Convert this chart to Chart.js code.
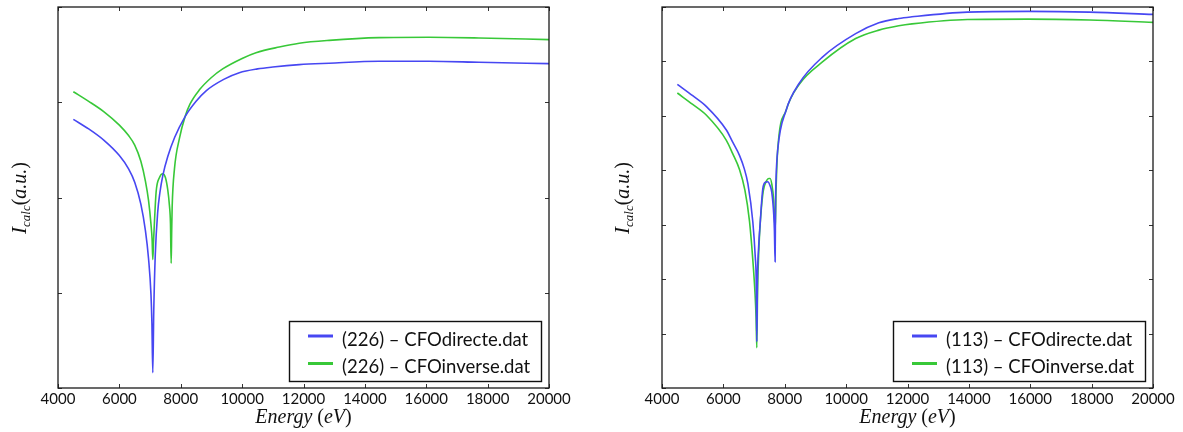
<!DOCTYPE html>
<html>
<head>
<meta charset="utf-8">
<script src="https://cdn.jsdelivr.net/npm/chart.js@4.4.1/dist/chart.umd.min.js"></script>
<style>
  html, body { margin: 0; padding: 0; background: #fff; }
  body { width: 1183px; height: 432px; position: relative; overflow: hidden; }
  .box { position: absolute; top: 0; height: 432px; }
  canvas { display: block; }
</style>
</head>
<body>
<div class="box" style="left:0;width:590px"><canvas id="c1" width="590" height="432"></canvas></div>
<div class="box" style="left:590px;width:593px"><canvas id="c2" width="593" height="432"></canvas></div>
<script>
// ---------- data ----------
const X_TICKS = [4000, 6000, 8000, 10000, 12000, 14000, 16000, 18000, 20000];
const Y_TICKS_226 = [0, 1, 2, 3, 4];
const Y_TICKS_113 = [0, 1, 2, 3, 4, 5, 6, 7];

const LABEL_226_DIR = "(226) \u2013 CFOdirecte.dat";
const LABEL_226_INV = "(226) \u2013 CFOinverse.dat";
const LABEL_113_DIR = "(113) \u2013 CFOdirecte.dat";
const LABEL_113_INV = "(113) \u2013 CFOinverse.dat";

const E_226_DIR = [4500, 5000, 5500, 6000, 6300, 6500, 6700, 6850, 6950, 7030, 7060, 7089, 7120, 7170, 7250, 7320, 7415, 7577, 7800, 8142, 8500, 8826, 9400, 9908, 10500, 11000, 11860, 12836, 14462, 16089, 17715, 20000];
const I_226_DIR = [2.82, 2.72, 2.60, 2.44, 2.30, 2.16, 1.93, 1.65, 1.36, 0.98, 0.68, 0.16, 0.80, 1.40, 1.85, 2.05, 2.23, 2.43, 2.63, 2.85, 3.01, 3.12, 3.24, 3.31, 3.35, 3.37, 3.395, 3.41, 3.43, 3.43, 3.42, 3.405];

const E_226_INV = [4500, 5000, 5500, 6000, 6300, 6500, 6700, 6850, 6950, 7030, 7068, 7089, 7115, 7144, 7198, 7307, 7415, 7500, 7577, 7630, 7665, 7688, 7705, 7720, 7795, 7957, 8142, 8300, 8608, 9000, 9366, 10000, 10452, 11210, 11860, 12836, 14462, 16089, 17715, 20000];
const I_226_INV = [3.11, 3.01, 2.90, 2.76, 2.65, 2.55, 2.38, 2.17, 1.97, 1.72, 1.55, 1.35, 1.55, 1.75, 2.06, 2.21, 2.25, 2.21, 2.08, 1.92, 1.73, 1.31, 1.65, 1.90, 2.30, 2.62, 2.85, 2.98, 3.13, 3.26, 3.35, 3.46, 3.52, 3.58, 3.62, 3.65, 3.678, 3.682, 3.675, 3.657];

const E_113_DIR = [4500, 5000, 5449, 6097, 6300, 6528, 6680, 6800, 6960, 7040, 7069, 7089, 7110, 7150, 7198, 7284, 7370, 7446, 7520, 7576, 7640, 7663, 7686, 7700, 7720, 7770, 8042, 8473, 9228, 10311, 11067, 11715, 12147, 13951, 15929, 17928, 20000];
const I_113_DIR = [5.58, 5.37, 5.17, 4.74, 4.52, 4.27, 4.03, 3.75, 3.05, 2.40, 2.00, 0.85, 2.00, 2.60, 3.02, 3.66, 3.78, 3.79, 3.72, 3.60, 3.20, 2.90, 2.32, 3.40, 3.90, 4.37, 5.10, 5.60, 6.08, 6.51, 6.71, 6.79, 6.82, 6.906, 6.92, 6.906, 6.864];

const E_113_INV = [4500, 5000, 5449, 6097, 6300, 6528, 6700, 6850, 6960, 7030, 7065, 7089, 7115, 7160, 7210, 7300, 7400, 7480, 7522, 7580, 7640, 7690, 7720, 7770, 8042, 8473, 9228, 10311, 11067, 11715, 12147, 13951, 15929, 17928, 20000];
const I_113_INV = [5.42, 5.21, 5.01, 4.55, 4.31, 4.01, 3.64, 3.07, 2.35, 1.75, 1.30, 0.74, 1.80, 2.60, 3.10, 3.62, 3.80, 3.85, 3.85, 3.74, 3.45, 2.90, 3.70, 4.37, 5.10, 5.58, 5.99, 6.42, 6.575, 6.655, 6.69, 6.77, 6.777, 6.76, 6.717];

// ---------- styling ----------
const BLUE = '#4747f2';
const GREEN = '#38c838';
const toPts = (E, I) => E.map((e, i) => ({ x: e, y: I[i] }));

const framePlugin = {
  id: 'frame',
  afterDraw(chart, args, opts) {
    const { ctx, chartArea: a, scales } = chart;
    ctx.save();
    // inward ticks
    ctx.strokeStyle = '#333';
    ctx.lineWidth = 1;
    ctx.beginPath();
    X_TICKS.forEach(v => {
      const px = Math.round(scales.x.getPixelForValue(v)) + 0.5;
      ctx.moveTo(px, a.bottom); ctx.lineTo(px, a.bottom - 4);
      ctx.moveTo(px, a.top); ctx.lineTo(px, a.top + 4);
    });
    opts.yTicks.forEach(v => {
      const py = Math.round(scales.y.getPixelForValue(v)) + 0.5;
      ctx.moveTo(a.left, py); ctx.lineTo(a.left + 4, py);
      ctx.moveTo(a.right, py); ctx.lineTo(a.right - 4, py);
    });
    ctx.stroke();
    // frame
    ctx.strokeStyle = '#1a1a1a';
    ctx.lineWidth = 1.3;
    ctx.strokeRect(a.left, a.top, a.right - a.left, a.bottom - a.top);

    // x title: Energy (eV)
    const parts = [
      ['italic 20px "Liberation Serif"', 'Energy'],
      ['20px "Liberation Serif"', ' ('],
      ['italic 20px "Liberation Serif"', 'eV'],
      ['20px "Liberation Serif"', ')']
    ];
    ctx.fillStyle = '#111';
    ctx.textBaseline = 'alphabetic';
    let w = 0;
    parts.forEach(p => { ctx.font = p[0]; w += ctx.measureText(p[1]).width; });
    let x = (a.left + a.right) / 2 - w / 2;
    const yb = opts.xTitleBaseline;
    parts.forEach(p => { ctx.font = p[0]; ctx.fillText(p[1], x, yb); x += ctx.measureText(p[1]).width; });

    // y title: I_calc (a.u.)
    ctx.save();
    ctx.translate(opts.yTitleX, opts.yTitleCenter);
    ctx.rotate(-Math.PI / 2);
    const yparts = [
      ['italic 21px "Liberation Serif"', 'I', 0],
      ['italic 13px "Liberation Serif"', 'calc', 4],
      ['20px "Liberation Serif"', '(', 0],
      ['italic 20px "Liberation Serif"', 'a.u.', 0],
      ['20px "Liberation Serif"', ')', 0]
    ];
    let wy = 0;
    yparts.forEach(p => { ctx.font = p[0]; wy += ctx.measureText(p[1]).width; });
    let xx = -wy / 2;
    yparts.forEach(p => { ctx.font = p[0]; ctx.fillText(p[1], xx, 7 + p[2]); xx += ctx.measureText(p[1]).width; });
    ctx.restore();

    // legend
    const bw = 252, bh = 60;
    const bx = a.right - 8 - bw, by = a.bottom - 7 - bh;
    ctx.fillStyle = '#fff';
    ctx.fillRect(bx, by, bw, bh);
    ctx.strokeStyle = '#111';
    ctx.lineWidth = 1.4;
    ctx.strokeRect(bx + 0.5, by + 0.5, bw, bh);
    chart.data.datasets.forEach((ds, i) => {
      const ly = by + 15 + i * 27.5;
      ctx.strokeStyle = ds.borderColor;
      ctx.lineWidth = 3;
      ctx.beginPath();
      ctx.moveTo(bx + 19, ly); ctx.lineTo(bx + 44, ly);
      ctx.stroke();
      ctx.fillStyle = '#111';
      ctx.font = '18.5px Lato';
      ctx.textBaseline = 'middle';
      ctx.fillText(ds.label, bx + 53, ly + 4);
    });
    ctx.restore();
  }
};

function makeChart(id, dsets, yMax, yTicks, yWidth, padRight, titleOpts) {
  return new Chart(document.getElementById(id), {
    type: 'line',
    data: {
      datasets: dsets.map(d => ({
        label: d.label,
        data: toPts(d.E, d.I),
        borderColor: d.color,
        backgroundColor: d.color,
        borderWidth: 1.6,
        pointRadius: 0,
        cubicInterpolationMode: 'monotone',
        fill: false
      }))
    },
    options: {
      responsive: false,
      animation: false,
      devicePixelRatio: 1,
      layout: { padding: { top: 7, right: padRight, left: 0, bottom: 0 } },
      plugins: {
        legend: { display: false },
        tooltip: { enabled: false },
        frame: Object.assign({ yTicks: yTicks }, titleOpts)
      },
      scales: {
        x: {
          type: 'linear', min: 4000, max: 20000,
          afterBuildTicks: s => { s.ticks = X_TICKS.map(v => ({ value: v })); },
          afterFit: s => { s.height = 44; },
          grid: { display: false, drawTicks: false, tickLength: 0 },
          border: { display: false },
          ticks: { color: '#111', font: { family: 'Lato', size: 15 }, padding: 2, maxRotation: 0, callback: v => String(v) }
        },
        y: {
          type: 'linear', min: 0, max: yMax,
          afterBuildTicks: s => { s.ticks = yTicks.map(v => ({ value: v })); },
          afterFit: s => { s.width = yWidth; },
          grid: { display: false, drawTicks: false, tickLength: 0 },
          border: { display: false },
          ticks: { display: false }
        }
      }
    },
    plugins: [framePlugin]
  });
}

makeChart('c1', [
  { label: LABEL_226_DIR, E: E_226_DIR, I: I_226_DIR, color: BLUE },
  { label: LABEL_226_INV, E: E_226_INV, I: I_226_INV, color: GREEN }
], 4, Y_TICKS_226, 58, 41, { xTitleBaseline: 423, yTitleX: 19, yTitleCenter: 198 });

makeChart('c2', [
  { label: LABEL_113_DIR, E: E_113_DIR, I: I_113_DIR, color: BLUE },
  { label: LABEL_113_INV, E: E_113_INV, I: I_113_INV, color: GREEN }
], 7, Y_TICKS_113, 72, 30, { xTitleBaseline: 423, yTitleX: 32, yTitleCenter: 198 });
</script>
</body>
</html>
